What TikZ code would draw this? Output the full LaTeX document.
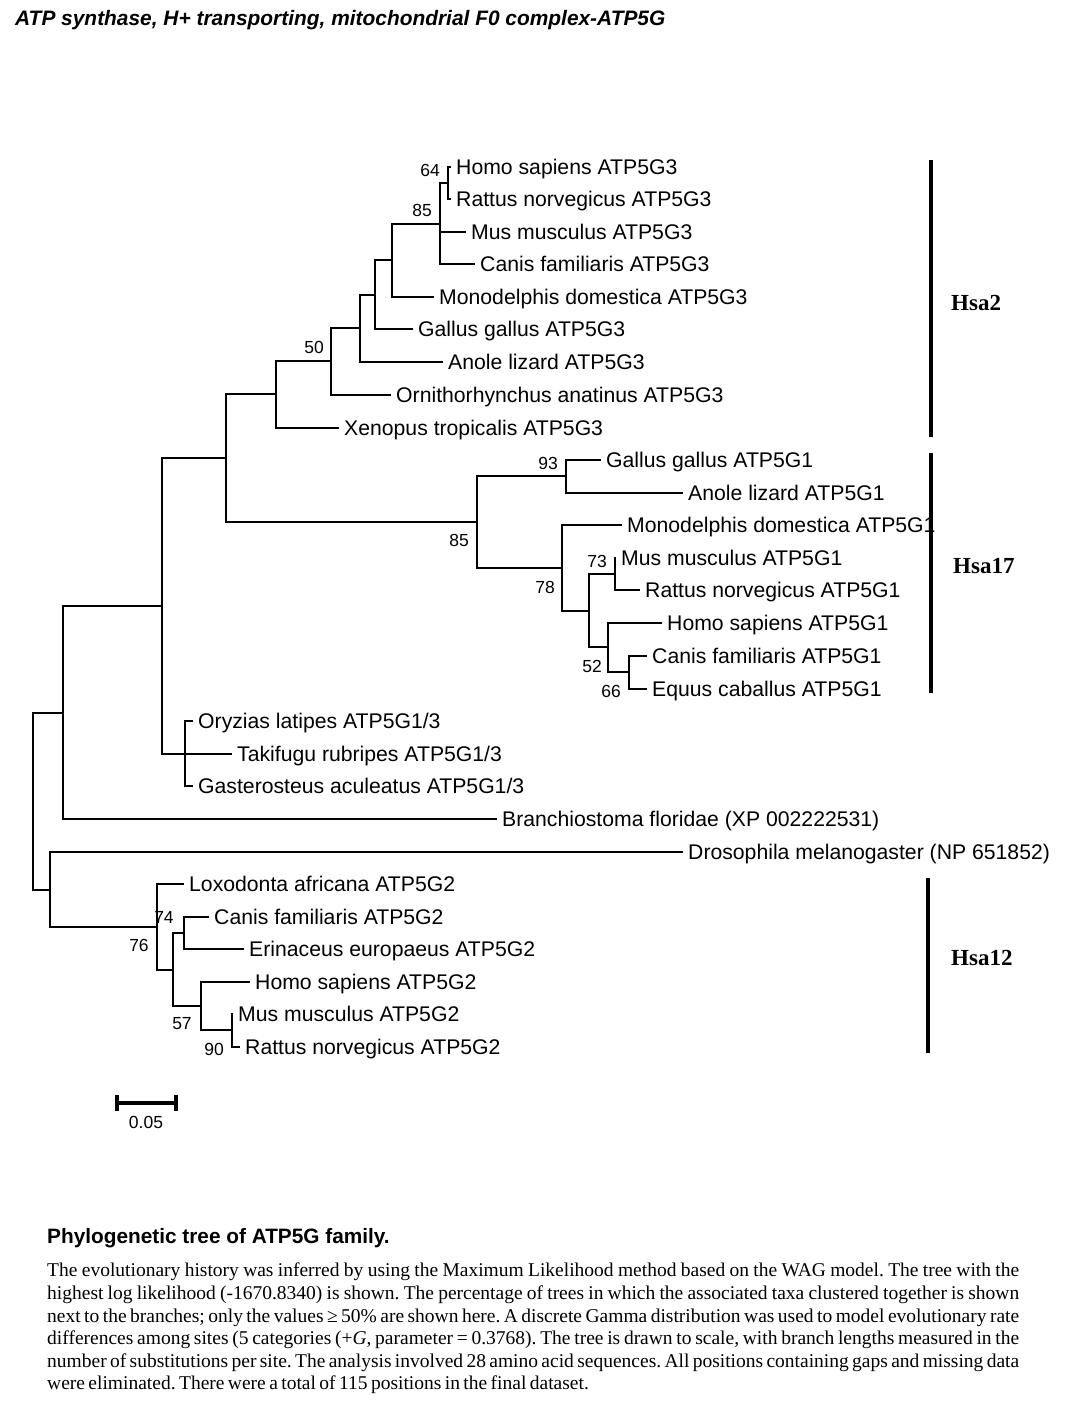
\documentclass[tikz,border=0pt]{standalone}
\usepackage{fontspec}
\setmainfont{Liberation Serif}
\newfontfamily\arialf{Liberation Sans}
\newfontfamily\bodyf[WordSpace={0.7,1,1}]{Liberation Serif}
\begin{document}
\begin{tikzpicture}[x=1pt,y=-1pt,
  br/.style={line width=2pt},
  leaf/.style={anchor=west, inner xsep=5pt, inner ysep=0pt, font=\arialf\fontsize{21.2}{25}\selectfont, text height=15.2pt, text depth=0pt},
  boot/.style={inner sep=0pt, font=\arialf\fontsize{17.5}{20}\selectfont},
  clbar/.style={line width=4.5pt},
  hsa/.style={inner sep=0pt, anchor=west, font=\bfseries\fontsize{23}{26}\selectfont}]
\fill[white] (0,0) rectangle (1065,1408);
\useasboundingbox (0,0) rectangle (1065,1408);

% title
\node[anchor=west, inner sep=0pt, font=\arialf\bfseries\itshape\fontsize{20.9}{24}\selectfont] (title) at (15,20) {ATP synthase, H+ transporting, mitochondrial F0 complex-ATP5G};

% internal nodes
\coordinate (root) at (33,801);
\coordinate (A) at (63,713);
\coordinate (B) at (162,606);
\coordinate (C) at (226,458);
\coordinate (D) at (276,394);
\coordinate (E) at (331,361);
\coordinate (F) at (360,328);
\coordinate (n4) at (375,295);
\coordinate (n3) at (392,260);
\coordinate (n2) at (440,224);
\coordinate (n1) at (448,183);
\coordinate (n14) at (477,522);
\coordinate (n8) at (566,476);
\coordinate (n13) at (562,568);
\coordinate (n12) at (589,611);
\coordinate (n9) at (615,574);
\coordinate (n11) at (608,647);
\coordinate (n10) at (629,672);
\coordinate (fish) at (185,754);
\coordinate (G) at (50,890);
\coordinate (n21) at (157,927);
\coordinate (n20) at (173,970);
\coordinate (n19) at (184,933);
\coordinate (n18) at (201,1006);
\coordinate (n17) at (232,1030);

% leaves
\node[leaf] (t0) at (451,167) {Homo sapiens ATP5G3};
\node[leaf] (t1) at (451,199) {Rattus norvegicus ATP5G3};
\node[leaf] (t2) at (466,232) {Mus musculus ATP5G3};
\node[leaf] (t3) at (475,264) {Canis familiaris ATP5G3};
\node[leaf] (t4) at (434,297) {Monodelphis domestica ATP5G3};
\node[leaf] (t5) at (413,329) {Gallus gallus ATP5G3};
\node[leaf] (t6) at (443,362) {Anole lizard ATP5G3};
\node[leaf] (t7) at (391,395) {Ornithorhynchus anatinus ATP5G3};
\node[leaf] (t8) at (339,428) {Xenopus tropicalis ATP5G3};
\node[leaf] (t9) at (601,460) {Gallus gallus ATP5G1};
\node[leaf] (t10) at (683,493) {Anole lizard ATP5G1};
\node[leaf] (t11) at (622,525) {Monodelphis domestica ATP5G1};
\node[leaf] (t12) at (616,558) {Mus musculus ATP5G1};
\node[leaf] (t13) at (640,590) {Rattus norvegicus ATP5G1};
\node[leaf] (t14) at (662,623) {Homo sapiens ATP5G1};
\node[leaf] (t15) at (647,656) {Canis familiaris ATP5G1};
\node[leaf] (t16) at (647,689) {Equus caballus ATP5G1};
\node[leaf] (t17) at (193,721) {Oryzias latipes ATP5G1/3};
\node[leaf] (t18) at (232,754) {Takifugu rubripes ATP5G1/3};
\node[leaf] (t19) at (193,786) {Gasterosteus aculeatus ATP5G1/3};
\node[leaf] (t20) at (497,819) {Branchiostoma floridae (XP 002222531)};
\node[leaf] (t21) at (683,852) {Drosophila melanogaster (NP 651852)};
\node[leaf] (t22) at (184,884) {Loxodonta africana ATP5G2};
\node[leaf] (t23) at (209,917) {Canis familiaris ATP5G2};
\node[leaf] (t24) at (244,949) {Erinaceus europaeus ATP5G2};
\node[leaf] (t25) at (250,982) {Homo sapiens ATP5G2};
\node[leaf] (t26) at (233,1014) {Mus musculus ATP5G2};
\node[leaf] (t27) at (240,1047) {Rattus norvegicus ATP5G2};

% branches
\foreach \p/\c in {root/A, root/G, A/B, B/C, B/fish, C/D, C/n14, D/E, E/F, F/n4, n4/n3, n3/n2, n2/n1,
  n14/n8, n14/n13, n13/n12, n12/n9, n12/n11, n11/n10, G/n21, n21/n20, n20/n19, n20/n18, n18/n17,
  n1/t0, n1/t1, n2/t2, n2/t3, n3/t4, n4/t5, F/t6, E/t7, D/t8, n8/t9, n8/t10, n13/t11, n9/t12, n9/t13,
  n11/t14, n10/t15, n10/t16, fish/t17, fish/t18, fish/t19, A/t20, G/t21, n21/t22, n19/t23, n19/t24,
  n18/t25, n17/t26, n17/t27}
  \draw[br] (\p) |- (\c);

% bootstrap values
\node[boot] (b64) at (430,170) {64};
\node[boot] (b85a) at (422,210) {85};
\node[boot] (b50) at (314,347) {50};
\node[boot] (b93) at (548,463) {93};
\node[boot] (b85b) at (459,540) {85};
\node[boot] (b78) at (545,587) {78};
\node[boot] (b73) at (597,561) {73};
\node[boot] (b52) at (592,666) {52};
\node[boot] (b66) at (611,691) {66};
\node[boot] (b74) at (164,917) {74};
\node[boot] (b76) at (139,945) {76};
\node[boot] (b57) at (182,1024) {57};
\node[boot] (b90) at (214,1049) {90};

% cluster bars
\coordinate (h2a) at (931,160); \coordinate (h2b) at (931,437);
\coordinate (h17a) at (931,453); \coordinate (h17b) at (931,693);
\coordinate (h12a) at (928,878); \coordinate (h12b) at (928,1053);
\draw[clbar] (h2a) -- (h2b);
\draw[clbar] (h17a) -- (h17b);
\draw[clbar] (h12a) -- (h12b);
\node[hsa] (hsa2) at (951,303) {Hsa2};
\node[hsa] (hsa17) at (953,566) {Hsa17};
\node[hsa] (hsa12) at (951,958) {Hsa12};

% scale bar
\coordinate (s1) at (117,1103); \coordinate (s2) at (176,1103);
\draw[line width=4pt] (s1) -- (s2);
\draw[line width=4pt] ([yshift=-8pt]s1) -- ([yshift=8pt]s1);
\draw[line width=4pt] ([yshift=-8pt]s2) -- ([yshift=8pt]s2);
\node[boot] (sl) at (146,1122) {0.05};

% caption
\node[anchor=west, inner sep=0pt, font=\arialf\bfseries\fontsize{20.8}{24}\selectfont] (cap) at (47,1238) {Phylogenetic tree of ATP5G family.};
\node[anchor=north west, inner sep=0pt, text width=972pt, align=justify, font=\bodyf\fontsize{19.5}{22.6}\selectfont\frenchspacing] (body) at (47,1263) {The evolutionary history was inferred by using the Maximum Likelihood method based on the WAG model. The tree with the\linebreak highest log likelihood (-1670.8340) is shown. The percentage of trees in which the associated taxa clustered together is shown\linebreak next to the branches; only the values \mbox{≥ 50\%} are shown here. A discrete Gamma distribution was used to model evolutionary rate\linebreak differences among sites (5 categories (+\textit{G}, parameter = 0.3768). The tree is drawn to scale, with branch lengths measured in the\linebreak number of substitutions per site. The analysis involved 28 amino acid sequences. All positions containing gaps and missing data\linebreak were eliminated. There were a total of 115 positions in the final dataset.};
\end{tikzpicture}
\end{document}
